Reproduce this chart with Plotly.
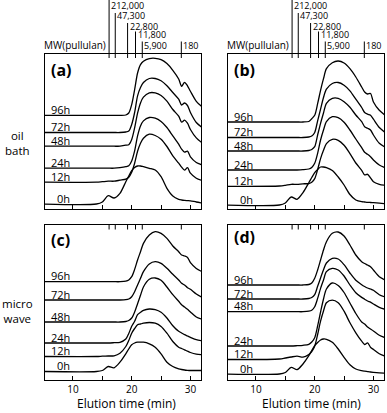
import plotly.graph_objects as go

# ---------------- data ----------------
TIMES = [5, 14, 15, 16, 17, 18, 19, 19.5, 20, 20.5, 21, 21.5, 22, 23, 24, 25, 26, 27, 28, 28.5, 29, 29.5, 30, 31, 32]
HOURS = ["0h", "12h", "24h", "48h", "72h", "96h"]

MW_TIMES = [16.15, 17.2, 19.3, 20.65, 21.8, 28.45]
MW_LABELS = ["212,000", "47,300", "22,800", "11,800", "5,900", "180"]

# (a) oil bath
A_OFF = [4.5, 26.3, 40.3, 62.3, 76.0, 93.2]
A_0H = [0, 0, 2, 8.3, 6, 10.7, 22.3, 28, 33.3, 36.5, 38, 38, 37.3, 35.7, 34, 27.3, 15.7, 8, 4.7, 4, 3.6, 3.4, 3.2, 2, 1]
A_12H = [0, 0, 0.5, 1, 1, 2, 3, 5, 10, 19, 31, 39, 44, 48, 46.7, 43, 35.7, 26.3, 19, 15, 12, 14.5, 9, 4, 1.7]
A_24H = [0, 0, 0, 0, 0, 0.5, 1.5, 2.5, 7.3, 17.3, 32.3, 42.3, 47.3, 50.7, 50, 46.7, 40.7, 32.3, 24, 19, 16, 17, 11.3, 5.7, 3.3]
A_48H = [0, 0, 0, 0, 0, 0, 1, 1.5, 6.7, 18.3, 33, 43.3, 49, 53.3, 53.3, 50.7, 45, 36.7, 30, 24, 26, 23, 16.7, 8.3, 3.3]
A_72H = [0, 0, 0, 0, 0, 0, 0.5, 1.5, 8, 20, 36.7, 45, 50, 54, 54, 51.7, 46.7, 40, 33.3, 27.5, 29.5, 27, 20, 10, 5]
A_96H = [0, 0, 0, 0, 0, 0, 0.3, 2.3, 10.7, 25.7, 42.3, 50.7, 54, 56.7, 57, 55.7, 51.7, 45, 36.3, 29, 33, 29.5, 24, 14, 8.3]

# (b) oil bath
B_OFF = [3.5, 22.2, 38.5, 57.5, 71.0, 86.5]
B_0H = [0, 0, 2, 8, 5.7, 12.3, 22.3, 27.5, 32.3, 35.5, 38, 38, 37.3, 34.5, 28, 20, 10.5, 5, 3.3, 3, 2.7, 2.5, 2.3, 1.8, 1.3]
B_12H = [0, 0.3, 1, 2, 2, 2.5, 2.7, 4, 7.7, 16.7, 27.7, 36, 42.7, 47, 46, 41, 32.7, 23.3, 16, 11.5, 12, 8.5, 4.5, 2, 1]
B_24H = [0, 0, 0, 0, 0, 0.3, 1, 2.5, 6.7, 16.7, 30, 40, 48.3, 53.3, 52.3, 47.7, 40, 31, 22.3, 17.7, 15.7, 13.3, 10, 5, 2.3]
B_48H = [0, 0, 0, 0, 0, 0, 0.5, 1.5, 4.3, 16, 27.7, 38, 47.7, 52.7, 52.7, 49.3, 43.7, 36, 29.3, 24.3, 22.7, 21, 16, 7.7, 3.7]
B_72H = [0, 0, 0, 0, 0, 0, 0.5, 1.5, 5, 16.7, 28.3, 40, 48.3, 54, 55, 52.3, 46.7, 38.3, 30, 25, 23.3, 22.3, 18.3, 10, 5]
B_96H = [0, 0, 0, 0, 0, 0, 0.5, 3.3, 6.7, 18.3, 31.7, 43.3, 53.3, 59.3, 61, 59, 53.3, 45, 35, 30, 28, 28.5, 20, 11.7, 6.7]

# (c) microwave
C_OFF = [8.5, 23.5, 37.0, 58.0, 80.0, 98.3]
C_0H = [0, 0, 1, 5, 3.7, 9.3, 17.7, 22.5, 26.7, 28.5, 29.3, 29.3, 29.3, 27.7, 24.3, 17.7, 9.3, 5, 2.7, 2, 1.5, 1.2, 1, 1, 1]
C_12H = [0, 0, 0.3, 0.5, 0.7, 3.3, 10, 16, 23.3, 28, 31.7, 32.5, 33.3, 34, 33.3, 30, 23.3, 15, 9.3, 8, 6.7, 5.3, 4, 2.3, 1.7]
C_24H = [0, 0, 0, 0, 0.3, 0.7, 4, 9.5, 16.7, 21.7, 28.3, 30.7, 32.7, 34, 33.3, 30.7, 25, 17.3, 11.7, 10, 8.3, 7, 5.7, 3.3, 2.3]
C_48H = [0, 0, 0, 0, 0, 0, 0.5, 1.5, 4, 10, 18.3, 26.7, 35, 42.7, 44, 41.7, 35, 27.3, 20.7, 17.3, 15, 12.7, 10, 5, 2.7]
C_72H = [0, 0, 0, 0, 0, 0, 0.3, 1, 3.3, 8.3, 15, 21.7, 28.3, 36, 38.3, 36.7, 31.7, 25.7, 20, 16.7, 15, 12.3, 10.7, 6, 2.7]
C_96H = [0, 0, 0, 0, 0, 0, 0.5, 1.7, 5, 12.3, 21.7, 30, 38.3, 46.7, 50, 48.3, 43.3, 35.7, 30, 26.7, 25.7, 24.3, 19, 13.3, 10]

# (d) microwave
D_OFF = [6.0, 20.5, 34.0, 68.3, 81.0, 95.0]
D_0H = [0, 0, 1.5, 6.7, 4.3, 10, 18.3, 23.5, 28.3, 31.5, 34, 35, 34.7, 31.7, 25, 16.7, 9.3, 5, 3.3, 2.8, 2.4, 2, 1.7, 1.2, 0.7]
D_12H = [0, 0.5, 1.5, 2.5, 3.3, 2.3, 5, 8, 13.3, 25, 38.3, 48.5, 56.7, 59.3, 56.7, 48.3, 36.7, 26.7, 18.3, 15, 16.7, 12.3, 10, 5.7, 3.3]
D_24H = [0, 0, 0, 0, 0.3, 0.7, 1.7, 4, 8.3, 20, 34, 47, 57, 63, 60.5, 53.5, 43, 32.5, 24, 22, 19, 17, 15, 10.7, 8.3]
D_48H = [0, 0, 0, 0, 0, 0, 0.5, 1.5, 5, 13.3, 23.3, 31.7, 40, 43.3, 41.7, 35.7, 26.7, 19, 14.3, 12.5, 10.7, 9.5, 7.7, 4.3, 2.3]
D_72H = [0, 0, 0, 0, 0, 0, 0.5, 1.5, 4.3, 12.7, 21, 29.3, 36, 40.7, 40, 34.3, 26, 18.7, 14.3, 12.5, 11, 10, 8.7, 4.3, 2]
D_96H = [0, 0, 0, 0, 0, 0, 0.5, 2, 6.7, 15, 25, 35, 43.3, 51.7, 53, 49, 40, 30, 23.3, 21.5, 20, 18.3, 15, 8.3, 5]

PANELS = [
    ("x", "y", "(a)", A_OFF, [A_0H, A_12H, A_24H, A_48H, A_72H, A_96H]),
    ("x2", "y2", "(b)", B_OFF, [B_0H, B_12H, B_24H, B_48H, B_72H, B_96H]),
    ("x3", "y3", "(c)", C_OFF, [C_0H, C_12H, C_24H, C_48H, C_72H, C_96H]),
    ("x4", "y4", "(d)", D_OFF, [D_0H, D_12H, D_24H, D_48H, D_72H, D_96H]),
]

# ---------------- layout geometry (pixels) ----------------
W, H = 387, 413
ML, MR, MT, MB = 45, 3, 54, 33
PH = H - MT - MB
FONT = "Open Sans"
XR = [5.24, 31.8]


def py2paper(py):
    return (H - MB - py) / PH


fig = go.Figure()
for xr, yr, letter, offs, sigs in PANELS:
    for off, sig in zip(offs, sigs):
        fig.add_trace(go.Scatter(
            x=TIMES, y=[off + v for v in sig], xaxis=xr, yaxis=yr, mode="lines",
            line=dict(color="black", width=1.3, shape="spline", smoothing=0.8),
            hoverinfo="skip", showlegend=False))

annotations = []
shapes = []
LETTER_Y = {"(a)": 138.5, "(b)": 138.5, "(c)": 140, "(d)": 143.3}
for xr, yr, letter, offs, sigs in PANELS:
    for off, lab in zip(offs, HOURS):
        annotations.append(dict(x=9.8, y=off + 6, xref=xr, yref=yr, text=lab, showarrow=False,
                                xanchor="right", yanchor="middle",
                                font=dict(family=FONT, size=11, color="black")))
    annotations.append(dict(x=6.0, y=LETTER_Y[letter], xref=xr, yref=yr, text="<b>%s</b>" % letter,
                            showarrow=False, xanchor="left", yanchor="middle",
                            font=dict(family=FONT, size=16, color="black")))

LINE_TOP = [0, 13, 23, 31.5, 41.5, 41.5]
LABEL_MID = [5.5, 15.8, 26, 34.5, 45.8, 45.8]
for xr in ["x", "x2"]:
    for t, lab, top, mid in zip(MW_TIMES, MW_LABELS, LINE_TOP, LABEL_MID):
        shapes.append(dict(type="line", xref=xr, yref="paper", x0=t, x1=t,
                           y0=py2paper(58), y1=py2paper(top),
                           line=dict(color="black", width=1)))
        annotations.append(dict(x=t, y=py2paper(mid), xref=xr, yref="paper", text=lab,
                                showarrow=False, xanchor="left", yanchor="middle", xshift=1,
                                borderpad=0,
                                font=dict(family=FONT, size=9, color="black")))
    annotations.append(dict(x=15.8, y=py2paper(45), xref=xr, yref="paper", text="MW(pullulan)",
                            showarrow=False, xanchor="right", yanchor="middle", borderpad=0,
                            font=dict(family=FONT, size=10, color="black")))
for xr in ["x3", "x4"]:
    for t in MW_TIMES:
        shapes.append(dict(type="line", xref=xr, yref="paper", x0=t, x1=t,
                           y0=py2paper(224.5), y1=py2paper(229.5),
                           line=dict(color="black", width=1)))

annotations.append(dict(x=-28 / (W - ML - MR), y=py2paper(143), xref="paper", yref="paper",
                        text="oil<br>bath", showarrow=False, xanchor="center", yanchor="middle",
                        font=dict(family=FONT, size=11.5, color="black")))
annotations.append(dict(x=-28 / (W - ML - MR), y=py2paper(311), xref="paper", yref="paper",
                        text="micro<br>wave", showarrow=False, xanchor="center", yanchor="middle",
                        font=dict(family=FONT, size=11.5, color="black")))
for xr, cx in [("x3", 126.7), ("x4", 311)]:
    annotations.append(dict(x=(cx - ML) / (W - ML - MR), y=py2paper(403.5), xref="paper", yref="paper",
                            text="Elution time (min)", showarrow=False, xanchor="center",
                            yanchor="middle", borderpad=0,
                            font=dict(family=FONT, size=12, color="black")))

XD1 = [0, 156 / (W - ML - MR)]
XD2 = [183 / (W - ML - MR), 1]
YD1 = [py2paper(208.5), 1]
YD2 = [0, py2paper(224.5)]


def xax(domain, anchor, labels):
    return dict(domain=domain, anchor=anchor, range=XR, showgrid=False, zeroline=False,
                showline=True, mirror=True, linecolor="black", linewidth=1,
                ticks="inside", ticklen=4, tickcolor="black", tickwidth=1,
                tickvals=[10, 15, 20, 25, 30], ticktext=["10", "", "20", "", "30"],
                showticklabels=labels, ticklabelstandoff=0,
                tickfont=dict(family=FONT, size=10, color="black"))


def yax(domain, anchor, top):
    return dict(domain=domain, anchor=anchor, range=[0, top], showgrid=False, zeroline=False,
                showline=True, mirror=True, linecolor="black", linewidth=1,
                showticklabels=False, ticks="")


fig.update_layout(
    width=W, height=H, margin=dict(l=ML, r=MR, t=MT, b=MB),
    paper_bgcolor="white", plot_bgcolor="white",
    xaxis=xax(XD1, "y", False), xaxis2=xax(XD2, "y2", False),
    xaxis3=xax(XD1, "y3", True), xaxis4=xax(XD2, "y4", True),
    yaxis=yax(YD1, "x", 154.5), yaxis2=yax(YD1, "x2", 154.5),
    yaxis3=yax(YD2, "x3", 155.5), yaxis4=yax(YD2, "x4", 155.5),
    annotations=annotations, shapes=shapes,
)

fig.write_html("out.html", config={"displayModeBar": False},
               post_script="document.body.style.margin='0';document.body.style.overflow='hidden';")
